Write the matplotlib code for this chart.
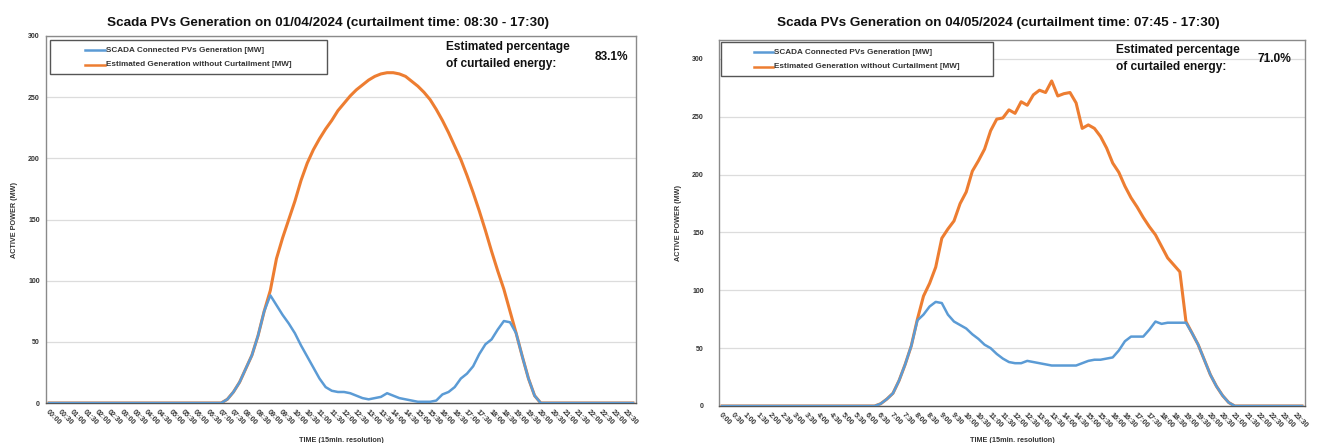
import matplotlib
matplotlib.use("Agg")
import matplotlib.pyplot as plt
from matplotlib.patches import Rectangle
import numpy as np

plt.rcParams['font.family'] = ['Liberation Sans', 'DejaVu Sans']

# ---------------- data (15-min resolution, 96 points) ----------------
n_points = 96
def zeros(k):
    return [0] * k

left_title = "Scada PVs Generation on 01/04/2024 (curtailment time: 08:30 - 17:30)"
right_title = "Scada PVs Generation on 04/05/2024 (curtailment time: 07:45 - 17:30)"
left_pct = "83.1%"
right_pct = "71.0%"

left_estimated = (zeros(29) +
    [3, 9, 17, 28, 39, 55, 75, 92, 118, 135, 150, 165, 182, 196, 207, 216, 224, 231,
     239, 245, 251, 256, 260, 264, 267, 269, 270, 270, 269, 267, 263, 259, 254, 248,
     240, 231, 221, 210, 199, 186, 172, 157, 141, 124, 108, 93, 75, 57, 38, 20, 6] +
    zeros(16))
left_scada = (zeros(29) +
    [3, 9, 17, 28, 39, 55, 75, 88, 80, 72, 65, 57, 47, 38, 29, 20, 13, 10, 9,
     9, 8, 6, 4, 3, 4, 5, 8, 6, 4, 3, 2, 1, 1, 1, 2, 7, 9, 13, 20,
     24, 30, 40, 48, 52, 60, 67, 66, 57, 38, 20, 6] +
    zeros(16))

right_estimated = (zeros(26) +
    [2, 6, 11, 22, 36, 52, 75, 95, 106, 120, 145, 153, 160, 175, 185, 203, 212, 222,
     238, 248, 249, 256, 253, 263, 260, 269, 273, 271, 281, 268, 270, 271, 262, 240,
     243, 240, 233, 223, 210, 202, 190, 180, 172, 163, 155, 148, 138, 128, 122, 116,
     73, 63, 53, 40, 27, 17, 9, 3] +
    zeros(12))
right_scada = (zeros(26) +
    [2, 6, 11, 22, 36, 52, 74, 79, 86, 90, 89, 79, 73, 70, 67, 62, 58, 53,
     50, 45, 41, 38, 37, 37, 39, 38, 37, 36, 35, 35, 35, 35, 35, 37,
     39, 40, 40, 41, 42, 48, 56, 60, 60, 60, 66, 73, 71, 72, 72, 72,
     72, 63, 53, 40, 27, 17, 9, 3] +
    zeros(12))

left_labels = ["%02d:%02d" % (h, m) for h in range(24) for m in (0, 30)]
right_labels = ["%d:%02d" % (h, m) for h in range(24) for m in (0, 30)]
y_ticks = [0, 50, 100, 150, 200, 250, 300]

legend_scada = "SCADA Connected PVs Generation [MW]"
legend_est = "Estimated Generation without Curtailment [MW]"
note_line1 = "Estimated percentage"
note_line2 = "of curtailed energy:"

BLUE = "#5b9bd5"
ORANGE = "#ed7d31"
TXT = "#333333"

W, H = 1322, 443
fig = plt.figure(figsize=(W / 100, H / 100), dpi=100)

# layout per panel, in pixels: axes box (l, r, t, b), legend box, note positions
panels = [
    dict(box=(46, 636, 36, 403), title=left_title, scada=left_scada, est=left_estimated,
         labels=left_labels, pct=left_pct, ymax=300, title_x=328,
         leg=(50, 327, 40, 74), handle=(85, 105), rows=(50, 65),
         note_x=446, pct_x=595, note_y=(47, 64), ypad=4.5, ylab_x=18),
    dict(box=(719, 1305, 40, 406), title=right_title, scada=right_scada, est=right_estimated,
         labels=right_labels, pct=right_pct, ymax=316.4, title_x=998,
         leg=(721, 993, 42, 76), handle=(754, 773), rows=(52, 67),
         note_x=1116, pct_x=1258, note_y=(50, 67), ypad=11, ylab_x=682),
]

for p in panels:
    l, r, t, b = p['box']
    ax = fig.add_axes([l / W, (H - b) / H, (r - l) / W, (b - t) / H])

    def px(xp, yp):
        return ((xp - l) / (r - l), (b - yp) / (b - t))

    x = np.arange(len(p['est']))
    ax.plot(x, p['est'], color=ORANGE, lw=2.2, zorder=2, solid_joinstyle='round')
    ax.plot(x, p['scada'], color=BLUE, lw=1.8, zorder=3, solid_joinstyle='round')
    ax.set_xlim(-0.5, n_points - 0.5)
    ax.set_ylim(0, p['ymax'])
    ax.set_yticks(y_ticks)
    ax.yaxis.grid(True, color="#dcdcdc", lw=0.9)
    ax.set_axisbelow(True)
    ax.set_xticks(x[::2])
    ax.set_xticklabels(p['labels'], rotation=-45, ha='left', va='top',
                       rotation_mode='anchor', fontsize=5.2, fontweight='bold',
                       color=TXT)
    ax.tick_params(axis='x', length=0, pad=4)
    ax.tick_params(axis='y', length=0, pad=p['ypad'], labelsize=5, labelcolor=TXT)
    for lab in ax.get_yticklabels():
        lab.set_fontweight('bold')
    for sp in ax.spines.values():
        sp.set_color('#8a8a8a')
        sp.set_linewidth(1.0)
    ax.spines['bottom'].set_color('#555555')

    # title (centred on the whole chart area)
    fig.text(p['title_x'] / W, 1 - 23 / H, p['title'], ha='center', va='center',
             fontsize=9.7, fontweight='bold', color='#111111')

    ax.set_ylabel("ACTIVE POWER (MW)", fontsize=5.2, fontweight='bold', color=TXT)
    ax.yaxis.set_label_coords((p['ylab_x'] - l) / (r - l), 0.5)
    ax.set_xlabel("TIME (15min. resolution)", fontsize=5.2, fontweight='bold', color=TXT)
    ax.xaxis.set_label_coords(0.5, (b - 437) / (b - t))

    # legend box drawn in axes coordinates
    ll, lr, lt, lb = p['leg']
    x0, y0 = px(ll, lb)
    x1, y1 = px(lr, lt)
    ax.add_patch(Rectangle((x0, y0), x1 - x0, y1 - y0, transform=ax.transAxes,
                           facecolor='white', edgecolor='#555555', lw=1.0, zorder=5))
    h0, h1 = p['handle']
    for yrow, col, name in zip(p['rows'], (BLUE, ORANGE), (legend_scada, legend_est)):
        a0 = px(h0, yrow)
        a1 = px(h1, yrow)
        ax.plot([a0[0], a1[0]], [a0[1], a1[1]], transform=ax.transAxes,
                color=col, lw=1.8, zorder=6, clip_on=False)
        ax.text(a1[0] + 0.002, a1[1], name, transform=ax.transAxes, ha='left',
                va='center', fontsize=5.9, fontweight='bold', color=TXT, zorder=6)

    # curtailed energy note
    n1 = px(p['note_x'], p['note_y'][0])
    n2 = px(p['note_x'], p['note_y'][1])
    ax.text(n1[0], n1[1], note_line1, transform=ax.transAxes,
            ha='left', va='center', fontsize=8.6, fontweight='bold', color='#111111')
    ax.text(n2[0], n2[1], note_line2, transform=ax.transAxes,
            ha='left', va='center', fontsize=8.6, fontweight='bold', color='#111111')
    pc = px(p['pct_x'], (p['note_y'][0] + p['note_y'][1]) / 2 + 1)
    ax.text(pc[0], pc[1], p['pct'], transform=ax.transAxes,
            ha='left', va='center', fontsize=8.6, fontweight='bold', color='#111111')

fig.savefig("out.png", dpi=100)
